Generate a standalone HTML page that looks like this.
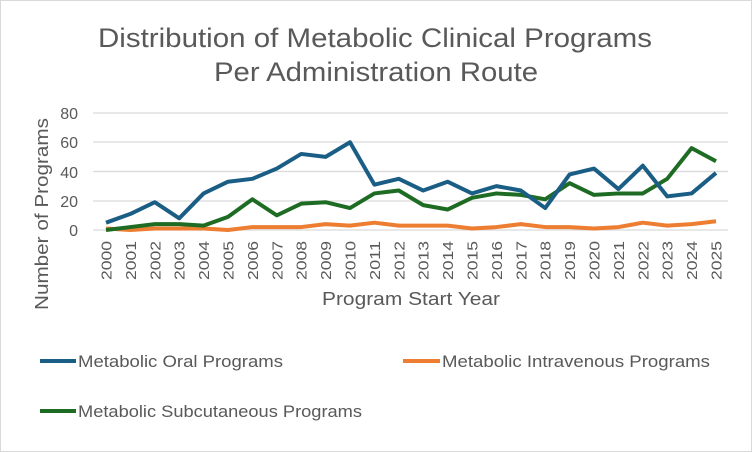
<!DOCTYPE html><html><head><style>body{margin:0;background:#fff}svg{display:block}text{font-family:"Liberation Sans",sans-serif;fill:#595959}</style></head><body>
<svg width="752" height="452" xmlns="http://www.w3.org/2000/svg">
<rect x="0.5" y="0.5" width="751" height="451" fill="#fff" stroke="#d9d9d9"/>
<text x="98" y="47" font-size="27" textLength="554" lengthAdjust="spacingAndGlyphs">Distribution of Metabolic Clinical Programs</text>
<text x="214" y="81" font-size="27" textLength="324" lengthAdjust="spacingAndGlyphs">Per Administration Route</text>
<g stroke="#d9d9d9" stroke-width="1.3">
<line x1="93" x2="728" y1="113" y2="113"/><line x1="93" x2="728" y1="142" y2="142"/><line x1="93" x2="728" y1="171.5" y2="171.5"/><line x1="93" x2="728" y1="201" y2="201"/><line x1="93" x2="728" y1="230" y2="230"/></g>
<g font-size="16" text-anchor="end"><text x="78" y="119">80</text><text x="78" y="148">60</text><text x="78" y="178">40</text><text x="78" y="207">20</text><text x="78" y="236">0</text></g>
<text transform="translate(48,310) rotate(-90)" font-size="18" textLength="192" lengthAdjust="spacingAndGlyphs">Number of Programs</text>
<text x="322" y="305" font-size="18" textLength="178" lengthAdjust="spacingAndGlyphs">Program Start Year</text>
<g id="xl" font-size="15" text-anchor="end"></g>
<polyline id="iv" fill="none" stroke="#ed7d31" stroke-width="4" stroke-linejoin="round"/>
<polyline id="sub" fill="none" stroke="#1e6b24" stroke-width="4" stroke-linejoin="round"/>
<polyline id="oral" fill="none" stroke="#1b5e85" stroke-width="4" stroke-linejoin="round"/>
<line x1="40" x2="76" y1="361" y2="361" stroke="#1b5e85" stroke-width="4"/><text x="78" y="367" font-size="16.5" textLength="205" lengthAdjust="spacingAndGlyphs">Metabolic Oral Programs</text>
<line x1="403" x2="440" y1="361" y2="361" stroke="#ed7d31" stroke-width="4"/><text x="442" y="367" font-size="16.5" textLength="268" lengthAdjust="spacingAndGlyphs">Metabolic Intravenous Programs</text>
<line x1="40" x2="76" y1="411" y2="411" stroke="#1e6b24" stroke-width="4"/><text x="78" y="417" font-size="16.5" textLength="284" lengthAdjust="spacingAndGlyphs">Metabolic Subcutaneous Programs</text>
</svg>
<script>
var o=[5,11,19,8,25,33,35,42,52,50,60,31,35,27,33,25,30,27,15,38,42,28,44,23,25,39],
i=[1,0,1,1,1,0,2,2,2,4,3,5,3,3,3,1,2,4,2,2,1,2,5,3,4,6],
s=[0,2,4,4,3,9,21,10,18,19,15,25,27,17,14,22,25,24,21,32,24,25,25,35,56,47];
function X(k){return 106+k*24.4}function Y(v){return 230-v*1.4625}
function p(a){return a.map(function(v,k){return X(k)+','+Y(v)}).join(' ')}
document.getElementById('oral').setAttribute('points',p(o));
document.getElementById('iv').setAttribute('points',p(i));
document.getElementById('sub').setAttribute('points',p(s));
var g=document.getElementById('xl'),h='';
for(var k=0;k<26;k++){var x=X(k)+5.5;h+='<text transform="translate('+x+',241) rotate(-90)" textLength="39" lengthAdjust="spacingAndGlyphs">'+(2000+k)+'</text>'}
g.innerHTML=h;
</script>
</body></html>
